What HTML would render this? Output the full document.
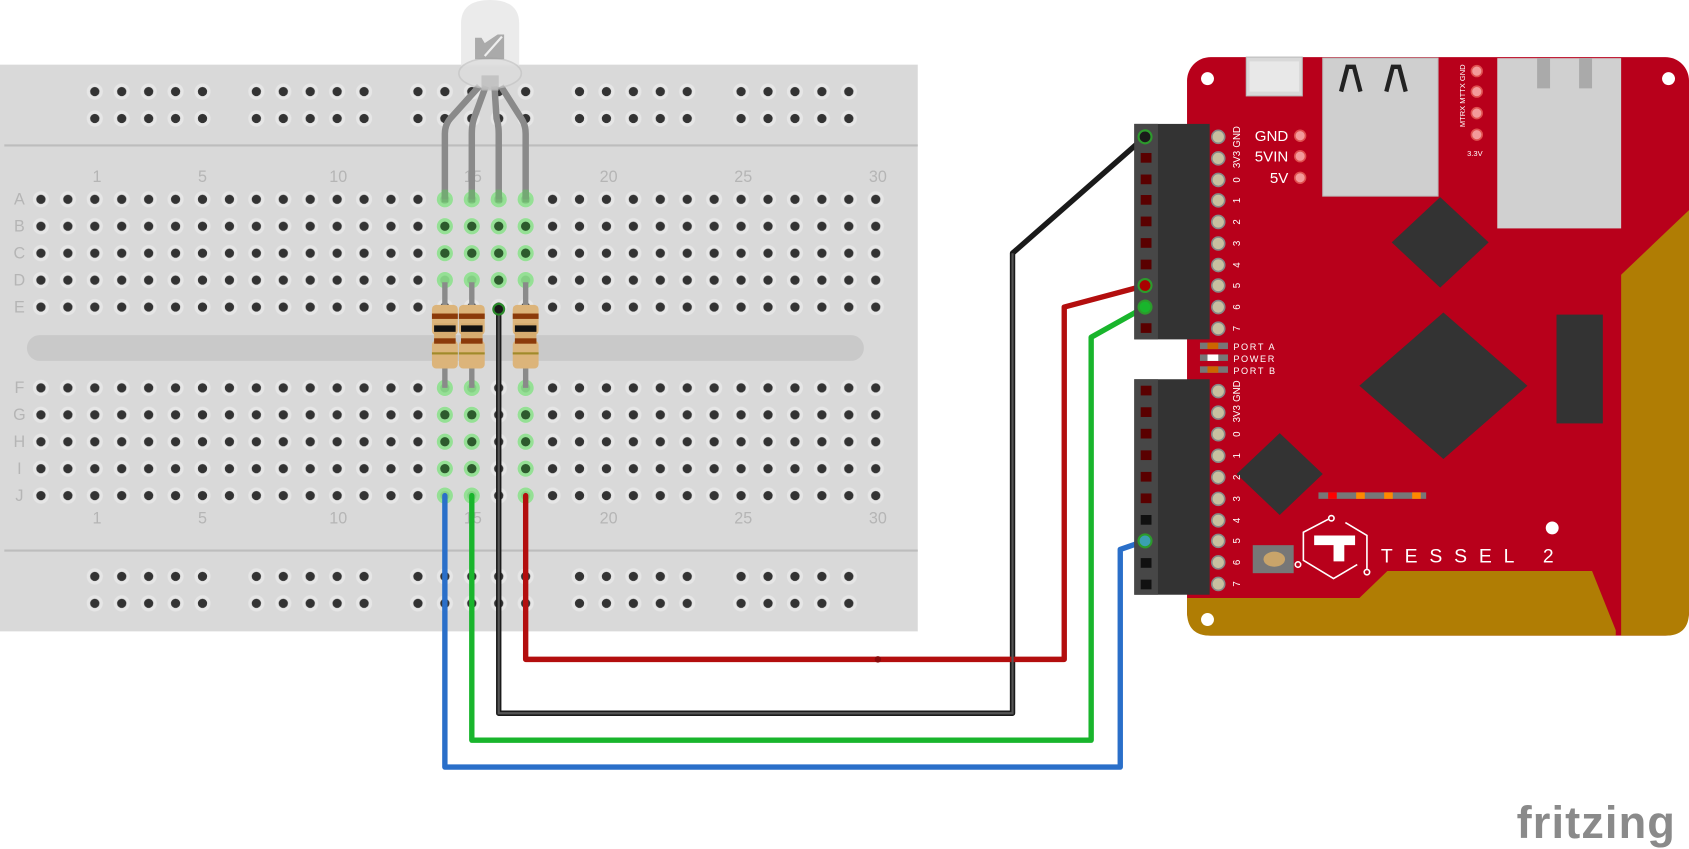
<!DOCTYPE html>
<html><head><meta charset="utf-8"><style>html,body{margin:0;padding:0;background:#fff}svg{display:block}</style></head>
<body>
<svg width="1689" height="849" viewBox="0 0 1568 788" preserveAspectRatio="none" xmlns="http://www.w3.org/2000/svg" font-family="Liberation Sans, sans-serif">
<defs>
<pattern id="grid" x="25.5" y="172.5" width="25" height="25" patternUnits="userSpaceOnUse">
<circle cx="12.5" cy="12.5" r="7.5" fill="#e6e6e6"/><circle cx="12.5" cy="12.5" r="4.3" fill="#333"/></pattern>
<pattern id="rail" x="75.5" y="72.5" width="150" height="25" patternUnits="userSpaceOnUse">
<g fill="#e6e6e6"><circle cx="12.5" cy="12.5" r="7.5"/><circle cx="37.5" cy="12.5" r="7.5"/><circle cx="62.5" cy="12.5" r="7.5"/><circle cx="87.5" cy="12.5" r="7.5"/><circle cx="112.5" cy="12.5" r="7.5"/></g>
<g fill="#333"><circle cx="12.5" cy="12.5" r="4.3"/><circle cx="37.5" cy="12.5" r="4.3"/><circle cx="62.5" cy="12.5" r="4.3"/><circle cx="87.5" cy="12.5" r="4.3"/><circle cx="112.5" cy="12.5" r="4.3"/></g></pattern>
<pattern id="rail2" x="75.5" y="522.5" width="150" height="25" patternUnits="userSpaceOnUse">
<g fill="#e6e6e6"><circle cx="12.5" cy="12.5" r="7.5"/><circle cx="37.5" cy="12.5" r="7.5"/><circle cx="62.5" cy="12.5" r="7.5"/><circle cx="87.5" cy="12.5" r="7.5"/><circle cx="112.5" cy="12.5" r="7.5"/></g>
<g fill="#333"><circle cx="12.5" cy="12.5" r="4.3"/><circle cx="37.5" cy="12.5" r="4.3"/><circle cx="62.5" cy="12.5" r="4.3"/><circle cx="87.5" cy="12.5" r="4.3"/><circle cx="112.5" cy="12.5" r="4.3"/></g></pattern>
</defs>

<!-- breadboard -->
<rect x="0" y="60" width="852" height="526" fill="#d9d9d9"/>
<line x1="4" y1="135" x2="852" y2="135" stroke="#bdbdbd" stroke-width="2"/>
<line x1="4" y1="511" x2="852" y2="511" stroke="#bdbdbd" stroke-width="2"/>
<rect x="25" y="311" width="777" height="24" rx="12" fill="#c9c9c9"/>
<rect x="75.5" y="72.5" width="725" height="50" fill="url(#rail)"/>
<rect x="75.5" y="522.5" width="725" height="50" fill="url(#rail2)"/>
<rect x="25.5" y="172.5" width="800" height="125" fill="url(#grid)"/>
<rect x="25.5" y="347.5" width="800" height="125" fill="url(#grid)"/>
<g fill="#b5b5b5" font-size="15" text-anchor="middle">
<text x="90" y="169">1</text><text x="188" y="169">5</text><text x="314" y="169">10</text><text x="439" y="169">15</text><text x="565" y="169">20</text><text x="690" y="169">25</text><text x="815" y="169">30</text>
<text x="90" y="486">1</text><text x="188" y="486">5</text><text x="314" y="486">10</text><text x="439" y="486">15</text><text x="565" y="486">20</text><text x="690" y="486">25</text><text x="815" y="486">30</text>
<text x="18" y="190">A</text><text x="18" y="215">B</text><text x="18" y="240">C</text><text x="18" y="265">D</text><text x="18" y="290">E</text>
<text x="18" y="365">F</text><text x="18" y="390">G</text><text x="18" y="415">H</text><text x="18" y="440">I</text><text x="18" y="465">J</text>
</g>
<g fill="#8de08d" opacity="0.9">
<circle cx="413" cy="185" r="7.5"/><circle cx="438" cy="185" r="7.5"/><circle cx="463" cy="185" r="7.5"/><circle cx="488" cy="185" r="7.5"/>
<circle cx="413" cy="210" r="7.5"/><circle cx="438" cy="210" r="7.5"/><circle cx="463" cy="210" r="7.5"/><circle cx="488" cy="210" r="7.5"/>
<circle cx="413" cy="235" r="7.5"/><circle cx="438" cy="235" r="7.5"/><circle cx="463" cy="235" r="7.5"/><circle cx="488" cy="235" r="7.5"/>
<circle cx="413" cy="260" r="7.5"/><circle cx="438" cy="260" r="7.5"/><circle cx="463" cy="260" r="7.5"/><circle cx="488" cy="260" r="7.5"/>
<circle cx="413" cy="360" r="7.5"/><circle cx="438" cy="360" r="7.5"/><circle cx="488" cy="360" r="7.5"/>
<circle cx="413" cy="385" r="7.5"/><circle cx="438" cy="385" r="7.5"/><circle cx="488" cy="385" r="7.5"/>
<circle cx="413" cy="410" r="7.5"/><circle cx="438" cy="410" r="7.5"/><circle cx="488" cy="410" r="7.5"/>
<circle cx="413" cy="435" r="7.5"/><circle cx="438" cy="435" r="7.5"/><circle cx="488" cy="435" r="7.5"/>
<circle cx="413" cy="460" r="7.5"/><circle cx="438" cy="460" r="7.5"/><circle cx="488" cy="460" r="7.5"/>
</g>
<g fill="#2d5a2d">
<circle cx="413" cy="210" r="4.3"/><circle cx="438" cy="210" r="4.3"/><circle cx="463" cy="210" r="4.3"/><circle cx="488" cy="210" r="4.3"/>
<circle cx="413" cy="235" r="4.3"/><circle cx="438" cy="235" r="4.3"/><circle cx="463" cy="235" r="4.3"/><circle cx="488" cy="235" r="4.3"/>
<circle cx="463" cy="260" r="4.3"/>
<circle cx="413" cy="385" r="4.3"/><circle cx="438" cy="385" r="4.3"/><circle cx="488" cy="385" r="4.3"/>
<circle cx="413" cy="410" r="4.3"/><circle cx="438" cy="410" r="4.3"/><circle cx="488" cy="410" r="4.3"/>
<circle cx="413" cy="435" r="4.3"/><circle cx="438" cy="435" r="4.3"/><circle cx="488" cy="435" r="4.3"/>
</g>

<!-- LED -->
<g fill="none" stroke="#8a8a8a" stroke-width="6" stroke-linejoin="round">
<path d="M445 80 L418 110 Q413 116 413 124 L413 185"/>
<path d="M451 80 L440 110 Q438 116 438 124 L438 185"/>
<path d="M459 80 L461 110 Q463 116 463 124 L463 185"/>
<path d="M465 80 L484 110 Q488 116 488 124 L488 185"/>
</g>
<g stroke="#6fb06f" stroke-width="6" opacity="0.8"><line x1="413" y1="176" x2="413" y2="188"/><line x1="438" y1="176" x2="438" y2="188"/><line x1="463" y1="176" x2="463" y2="188"/><line x1="488" y1="176" x2="488" y2="188"/></g>
<path d="M428 62 L428 22 Q428 0 455 0 Q482 0 482 22 L482 62 Z" fill="#e4e4e4" opacity="0.75"/>
<ellipse cx="455" cy="68" rx="29" ry="14" fill="#dcdcdc" opacity="0.7" stroke="#c4c4c4" stroke-width="1.5"/>
<rect x="447" y="70" width="16" height="14" fill="#bdbdbd" opacity="0.8"/>
<path d="M441 55 L441 35 L447 35 L450 40 L462 32 L468 32 L468 55 Z" fill="#9a9a9a" opacity="0.8"/>
<line x1="450" y1="52" x2="466" y2="34" stroke="#eee" stroke-width="2"/>

<!-- resistors -->
<g>
<line x1="413" y1="262" x2="413" y2="360" stroke="#8a8a8a" stroke-width="5"/>
<line x1="438" y1="262" x2="438" y2="360" stroke="#8a8a8a" stroke-width="5"/>
<line x1="488" y1="262" x2="488" y2="360" stroke="#8a8a8a" stroke-width="5"/>
<g id="res">
<rect x="401" y="283" width="24" height="28" rx="4" fill="#dcb47a"/>
<rect x="403" y="300" width="20" height="26" fill="#d6ac70"/>
<rect x="401" y="316" width="24" height="26" rx="4" fill="#dcb47a"/>
<rect x="401" y="291" width="24" height="5" fill="#8b3a0a"/>
<rect x="403" y="302" width="20" height="6" fill="#111"/>
<rect x="403" y="314" width="20" height="5" fill="#8b3a0a"/>
<rect x="401" y="327" width="24" height="2" fill="#a08a2a"/>
</g>
<use href="#res" x="25"/><use href="#res" x="75"/>
</g>

<!-- wires -->
<g fill="none" stroke-width="5" stroke-linejoin="round" stroke-linecap="round">
<path d="M463 287 L463 662 L940 662 L940 235 L1063 127" stroke="#1a1a1a"/>
<path d="M488 460 L488 612 L988 612 L988 285 L1063 265" stroke="#b30e0e"/>
<path d="M438 460 L438 687 L1013 687 L1013 313 L1063 285" stroke="#19b52c"/>
<path d="M413 460 L413 712 L1040 712 L1040 510 L1063 502" stroke="#2a6fc9"/>
</g>
<g fill="none" stroke-width="2"><path d="M463 287 L463 662 L940 662 L940 235" stroke="#555"/></g>
<circle cx="463" cy="287" r="5" fill="#1a1a1a" stroke="#2a8a2a" stroke-width="2"/>
<circle cx="815" cy="612" r="3" fill="#8a0a0a"/>

<!-- Tessel board -->
<rect x="1102" y="53" width="466" height="537" rx="22" fill="#b8001b"/>
<path d="M1568 195 L1505 255 L1505 590 L1546 590 Q1568 590 1568 568 Z" fill="#b07d04"/>
<path d="M1102 555 L1262 555 L1288 530 L1478 530 L1500 585 L1500 590 L1124 590 Q1102 590 1102 568 Z" fill="#b07d04"/>
<g fill="#fff"><circle cx="1121" cy="73" r="6"/><circle cx="1549" cy="73" r="6"/><circle cx="1121" cy="575" r="6"/><circle cx="1441" cy="490" r="6"/></g>
<rect x="1157" y="53" width="52" height="36" fill="#d9d9d9" stroke="#bbb"/>
<rect x="1160" y="57" width="46" height="28" fill="#e8e8e8"/>
<rect x="1228" y="54" width="107" height="128" fill="#cfcfcf" stroke="#bbb"/>
<path d="M1245 85 L1251 62 L1257 62 L1263 85 M1287 85 L1293 62 L1299 62 L1305 85" fill="none" stroke="#222" stroke-width="4"/>
<rect x="1390" y="54" width="115" height="158" fill="#d0d0d0"/>
<rect x="1427" y="54" width="12" height="28" fill="#aaa"/><rect x="1466" y="54" width="12" height="28" fill="#aaa"/>
<g fill="#fff" font-size="14" text-anchor="end"><text x="1196" y="131">GND</text><text x="1196" y="150">5VIN</text><text x="1196" y="170">5V</text></g>
<g fill="#f39a9a" stroke="#e05050" stroke-width="1.5"><circle cx="1207" cy="126" r="5"/><circle cx="1207" cy="145" r="5"/><circle cx="1207" cy="165" r="5"/>
<circle cx="1371" cy="66" r="5"/><circle cx="1371" cy="85" r="5"/><circle cx="1371" cy="105" r="5"/><circle cx="1371" cy="125" r="5"/></g>
<text x="1360" y="118" fill="#fff" font-size="7" transform="rotate(-90 1360 118)">MTRX MTTX GND</text>
<text x="1362" y="145" fill="#fff" font-size="7">3.3V</text>
<g fill="#333">
<path d="M1337 183 L1382 225 L1337 267 L1292 225 Z"/>
<path d="M1340 290 L1418 358 L1340 426 L1262 358 Z"/>
<path d="M1188 402 L1228 440 L1188 478 L1148 440 Z"/>
<rect x="1445" y="292" width="43" height="101"/>
</g>
<g><rect x="1224" y="457" width="100" height="6" fill="#777"/>
<rect x="1233" y="457" width="8" height="6" fill="#f00"/><rect x="1259" y="457" width="8" height="6" fill="#f80"/><rect x="1285" y="457" width="8" height="6" fill="#f80"/><rect x="1311" y="457" width="8" height="6" fill="#f80"/></g>
<!-- headers -->
<rect x="1053" y="115" width="70" height="200" fill="#333"/>
<rect x="1053" y="115" width="22" height="200" fill="#474747"/>
<g fill="#5a0000">
<rect x="1059" y="142" width="10" height="9"/><rect x="1059" y="162" width="10" height="9"/><rect x="1059" y="181" width="10" height="9"/><rect x="1059" y="201" width="10" height="9"/><rect x="1059" y="221" width="10" height="9"/><rect x="1059" y="241" width="10" height="9"/><rect x="1059" y="300" width="10" height="9"/>
</g>
<rect x="1053" y="352" width="70" height="200" fill="#333"/>
<rect x="1053" y="352" width="22" height="200" fill="#474747"/>
<g fill="#5a0000">
<rect x="1059" y="358" width="10" height="9"/><rect x="1059" y="378" width="10" height="9"/><rect x="1059" y="398" width="10" height="9"/><rect x="1059" y="418" width="10" height="9"/><rect x="1059" y="438" width="10" height="9"/><rect x="1059" y="458" width="10" height="9"/>
</g>
<g fill="#111"><rect x="1059" y="478" width="10" height="9"/><rect x="1059" y="518" width="10" height="9"/><rect x="1059" y="538" width="10" height="9"/></g>
<circle cx="1063" cy="127" r="6" fill="#1a1a1a" stroke="#2c9a2c" stroke-width="2"/>
<circle cx="1063" cy="265" r="6" fill="#a00" stroke="#2c9a2c" stroke-width="2"/>
<circle cx="1063" cy="285" r="6" fill="#19b52c" stroke="#2c9a2c" stroke-width="2"/>
<circle cx="1063" cy="502" r="6" fill="#3aa0b0" stroke="#2c9a2c" stroke-width="2"/>
<g fill="#c8c0a0" stroke="#888" stroke-width="1.5">
<circle cx="1131" cy="127" r="6"/><circle cx="1131" cy="147" r="6"/><circle cx="1131" cy="167" r="6"/><circle cx="1131" cy="186" r="6"/><circle cx="1131" cy="206" r="6"/><circle cx="1131" cy="226" r="6"/><circle cx="1131" cy="246" r="6"/><circle cx="1131" cy="265" r="6"/><circle cx="1131" cy="285" r="6"/><circle cx="1131" cy="305" r="6"/>
<circle cx="1131" cy="363" r="6"/><circle cx="1131" cy="383" r="6"/><circle cx="1131" cy="403" r="6"/><circle cx="1131" cy="423" r="6"/><circle cx="1131" cy="443" r="6"/><circle cx="1131" cy="463" r="6"/><circle cx="1131" cy="483" r="6"/><circle cx="1131" cy="502" r="6"/><circle cx="1131" cy="522" r="6"/><circle cx="1131" cy="542" r="6"/>
</g>
<g fill="#fff" font-size="9" text-anchor="middle">
<text transform="translate(1148,127) rotate(-90)" dy="3">GND</text><text transform="translate(1148,148) rotate(-90)" dy="3">3V3</text>
<text transform="translate(1148,167) rotate(-90)" dy="3">0</text><text transform="translate(1148,186) rotate(-90)" dy="3">1</text><text transform="translate(1148,206) rotate(-90)" dy="3">2</text><text transform="translate(1148,226) rotate(-90)" dy="3">3</text><text transform="translate(1148,246) rotate(-90)" dy="3">4</text><text transform="translate(1148,265) rotate(-90)" dy="3">5</text><text transform="translate(1148,285) rotate(-90)" dy="3">6</text><text transform="translate(1148,305) rotate(-90)" dy="3">7</text>
<text transform="translate(1148,363) rotate(-90)" dy="3">GND</text><text transform="translate(1148,384) rotate(-90)" dy="3">3V3</text>
<text transform="translate(1148,403) rotate(-90)" dy="3">0</text><text transform="translate(1148,423) rotate(-90)" dy="3">1</text><text transform="translate(1148,443) rotate(-90)" dy="3">2</text><text transform="translate(1148,463) rotate(-90)" dy="3">3</text><text transform="translate(1148,483) rotate(-90)" dy="3">4</text><text transform="translate(1148,502) rotate(-90)" dy="3">5</text><text transform="translate(1148,522) rotate(-90)" dy="3">6</text><text transform="translate(1148,542) rotate(-90)" dy="3">7</text>
</g>
<g><rect x="1114" y="318" width="26" height="6" fill="#777"/><rect x="1121" y="318" width="10" height="6" fill="#c60"/>
<rect x="1114" y="329" width="26" height="6" fill="#777"/><rect x="1121" y="329" width="10" height="6" fill="#fff"/>
<rect x="1114" y="340" width="26" height="6" fill="#777"/><rect x="1121" y="340" width="10" height="6" fill="#c60"/></g>
<g fill="#fff" font-size="8.5" letter-spacing="1.5"><text x="1145" y="325">PORT A</text><text x="1145" y="336">POWER</text><text x="1145" y="347">PORT B</text></g>
<rect x="1163" y="506" width="38" height="26" fill="#777"/>
<ellipse cx="1183" cy="519" rx="10" ry="7" fill="#c9a46a"/>
<g fill="none" stroke="#fff" stroke-width="1.5">
<path d="M1233 482 L1210 494 L1210 520 L1238 537 L1260 524"/><path d="M1249 485 L1269 497 L1269 528"/>
<circle cx="1236" cy="481" r="2.5"/><circle cx="1269" cy="531" r="2.5"/><circle cx="1205" cy="524" r="2.5"/></g>
<path d="M1220 497 L1258 497 L1258 506 L1248 506 L1248 521 L1238 521 L1238 506 L1220 506 Z" fill="#fff"/>
<text x="1282" y="522" fill="#fff" font-size="18" letter-spacing="11">TESSEL 2</text>
<text x="1408" y="778" fill="#8a8a8a" font-size="42" font-weight="bold" letter-spacing="1">fritzing</text>
</svg>
</body></html>
